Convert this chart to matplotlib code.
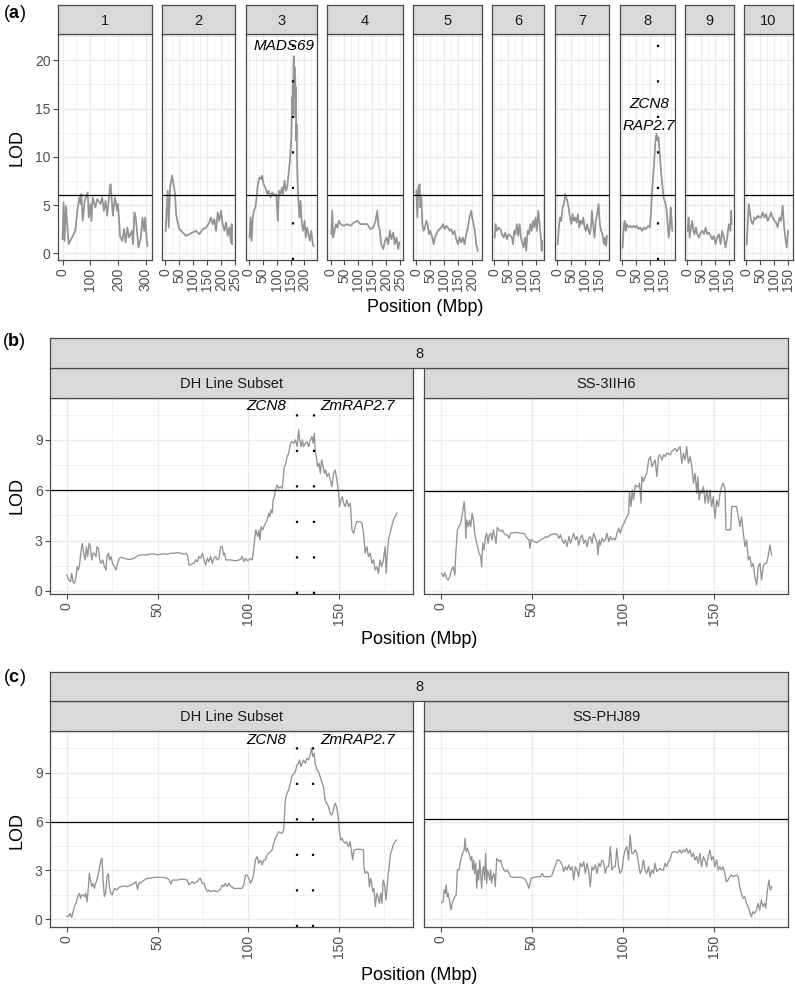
import matplotlib
matplotlib.use("Agg")
import matplotlib.pyplot as plt
from matplotlib.ticker import MultipleLocator, FuncFormatter

plt.rcParams['font.family'] = ['Liberation Sans', 'DejaVu Sans']
plt.rcParams['mathtext.fontset'] = 'custom'
plt.rcParams['mathtext.rm'] = 'Liberation Sans'
plt.rcParams['mathtext.bf'] = 'Liberation Sans:bold'
plt.rcParams['lines.scale_dashes'] = False

# ---------------- data: panel (a) genome scan ----------------
chroms = ['1', '2', '3', '4', '5', '6', '7', '8', '9', '10']
chrom_len = [306, 240, 233, 248, 224, 172, 179, 180, 160, 158]
threshold_a = 6.0

chr1_pos = [0, 3.6, 7.3, 12.1, 21.8, 33.9, 45.9, 53.2, 60.5, 65.3, 67.7, 72.6, 79.8, 90.7, 94.3,
            100.4, 104, 108.8, 118.5, 124.5, 136.6, 142.7, 148.7, 154.8, 160.8, 170.5, 172.9, 176.5,
            181.4, 188.6, 197.1, 199.5, 203.1, 206.8, 215.2, 221.3, 227.3, 233.4, 239.4, 249.1, 253.9,
            258.8, 263.6, 273.3, 281.7, 287.8, 293.8, 297.5, 303.5, 306]
chr1_lod = [1.46, 5.27, 1.28, 4.92, 0.94, 1.63, 2.32, 4.4, 5.79, 5.1, 6.14, 3.36, 5.44, 6.31, 3.71,
            5.1, 3.36, 5.79, 4.75, 5.62, 5.1, 5.79, 4.4, 5.44, 3.88, 6.83, 7.17, 5.79, 3.88, 5.79,
            4.4, 5.1, 3.71, 1.8, 1.28, 2.5, 1.11, 2.67, 1.63, 2.32, 0.94, 4.23, 3.71, 0.59, 1.63,
            3.71, 2.32, 3.71, 1.28, 0.76]
chr2_pos = [1.0, 8.4, 12, 16.8, 20.4, 24, 27.6, 31.2, 34.8, 38.4, 44.4, 50.4, 62.4, 74.3, 86.3,
            98.3, 110.3, 122.3, 134.3, 146.3, 158.3, 164.3, 170.3, 176.3, 182.3, 188.2, 194.2, 200.2,
            206.2, 212.2, 218.2, 224.2, 230.2, 236.2, 238.5, 240]
chr2_lod = [2.32, 6.48, 2.67, 6.83, 7.35, 8.04, 7.52, 6.83, 6.14, 4.06, 3.19, 2.5, 2.15, 1.8, 1.98,
            2.15, 2.32, 1.98, 2.5, 2.67, 3.19, 3.71, 3.02, 3.54, 2.32, 4.23, 3.36, 4.4, 3.02, 2.32,
            3.19, 1.8, 2.67, 1.11, 3.02, 0.94]
chr3_pos = [2.4, 6, 9.6, 14.4, 18, 22.8, 26.4, 32.4, 38.4, 44.4, 48, 52.8, 58.8, 65.9, 70.7, 77.9,
            83.9, 92.3, 98.3, 104.3, 107.9, 113.9, 118.7, 122.3, 128.3, 133.1, 137.9, 142.7, 147.5,
            152.3, 155.9, 157.1, 158.3, 159.5, 160.7, 161.9, 163.1, 164.3, 165.5, 166.7, 167.9, 169.1,
            170.3, 171.5, 173.9, 175.1, 178.7, 182.3, 185.9, 190.6, 195.4, 200.2, 205, 209.8, 214.6,
            219.4, 224.2, 230.2, 233]
chr3_lod = [1.63, 3.71, 1.28, 3.88, 4.4, 4.75, 5.44, 7.17, 7.87, 7.69, 8.04, 7.17, 6.83, 6.14, 6.48,
            5.79, 6.31, 5.96, 6.14, 3.36, 6.48, 6.14, 6.83, 6.14, 7.52, 6.48, 6.83, 8.21, 9.6, 11.68,
            16.19, 15.15, 17.57, 14.45, 19.65, 20.42, 16.19, 19.31, 16.53, 18.27, 14.11, 17.23, 11.68,
            13.41, 8.56, 7.52, 5.1, 3.71, 5.44, 3.02, 2.32, 3.36, 1.63, 2.67, 1.98, 1.28, 2.32, 0.94,
            0.76]
chr4_pos = [2.4, 6, 9.6, 14.4, 19.2, 24, 30, 36, 48, 60, 71.9, 83.9, 95.9, 107.9, 119.9, 131.9,
            143.9, 153.5, 161.9, 167.9, 171.5, 177.5, 182.3, 189.4, 195.4, 201.4, 207.4, 213.4, 219.4,
            225.4, 231.4, 237.4, 243.4, 247.5]
chr4_lod = [1.98, 4.4, 1.63, 2.32, 3.02, 2.67, 3.36, 3.02, 2.84, 3.02, 2.84, 3.19, 3.36, 3.02, 3.02,
            3.02, 2.5, 2.67, 3.36, 4.4, 3.02, 2.32, 0.94, 0.42, 1.28, 1.63, 0.94, 2.32, 1.46, 2.15,
            0.94, 1.63, 0.42, 1.11]
chr5_pos = [0, 3.6, 7.2, 12, 14.4, 18, 21.6, 26.3, 31.1, 35.9, 40.7, 45.5, 50.3, 57.5, 62.3, 67.1,
            71.9, 77.8, 83.8, 89.8, 95.8, 101.8, 107.8, 113.8, 119.8, 125.7, 131.7, 137.7, 143.7,
            149.7, 155.7, 161.7, 167.7, 173.7, 179.6, 185.6, 191.6, 197.6, 201.2, 206, 210.8, 215.6,
            221.6]
chr5_lod = [6.48, 3.71, 6.83, 7.17, 4.75, 5.79, 3.02, 2.32, 2.67, 3.36, 3.02, 1.98, 2.32, 1.63, 0.94,
            1.63, 1.98, 2.32, 2.5, 2.67, 3.02, 2.5, 2.84, 2.67, 2.32, 2.5, 1.98, 2.32, 1.46, 0.94,
            1.63, 1.11, 1.63, 0.94, 1.98, 2.67, 3.71, 4.4, 3.71, 3.02, 2.32, 0.94, 0.24]
chr6_pos = [1.2, 4.8, 9.6, 15.6, 21.6, 27.5, 33.5, 39.5, 45.5, 51.5, 57.5, 63.5, 67.1, 71.9, 76.6,
            81.4, 86.2, 91, 95.8, 100.6, 105.4, 110.2, 115, 119.8, 124.6, 129.3, 134.1, 138.9, 143.7,
            148.5, 153.3, 158.1, 162.9, 167.7, 170.5, 172]
chr6_lod = [1.63, 3.02, 2.32, 2.67, 2.5, 1.98, 1.63, 2.15, 1.46, 1.98, 1.8, 1.63, 0.94, 2.32, 1.98,
            3.02, 1.8, 3.02, 1.63, 1.11, 0.59, 1.63, 0.24, 2.32, 1.98, 3.02, 2.32, 3.36, 2.67, 3.71,
            2.32, 4.4, 3.02, 1.63, 0.24, 1.28]
chr7_pos = [1.2, 4.8, 9.6, 14.4, 19.2, 24, 28.7, 32.3, 35.9, 40.7, 45.5, 50.3, 55.1, 59.9, 64.7,
            69.5, 74.3, 79, 83.8, 88.6, 93.4, 98.2, 103, 107.8, 112.6, 117.4, 122.2, 124.6, 129.3,
            134.1, 138.9, 143.7, 148.5, 153.3, 158.1, 162.9, 167.7, 172.5, 176, 179]
chr7_lod = [0.94, 2.32, 3.71, 3.36, 4.75, 5.1, 6.14, 5.79, 5.44, 4.75, 3.71, 3.02, 4.06, 3.36, 3.71,
            3.19, 4.06, 2.67, 3.36, 3.02, 3.71, 2.67, 2.32, 3.02, 2.32, 1.98, 3.02, 4.4, 3.02, 1.63,
            3.36, 4.06, 5.1, 3.02, 2.32, 1.98, 0.94, 1.63, 0.76, 1.8]
chr8_pos = [1.2, 4.9, 8.5, 12.2, 15.9, 22, 28, 34.1, 40.2, 46.3, 52.4, 58.5, 64.6, 70.7, 76.8, 82.9,
            89, 95.1, 98.8, 102.4, 106.1, 111, 115.9, 119.5, 123.2, 126.8, 130.5, 134.1, 137.8, 141.5,
            145.1, 148.8, 152.4, 156.1, 159.8, 163.4, 167.1, 170.7, 174.4, 177, 180]
chr8_lod = [0.59, 2.67, 3.36, 2.32, 3.02, 2.67, 2.84, 2.67, 2.84, 2.67, 2.84, 2.5, 2.67, 2.32, 2.67,
            2.5, 2.67, 2.84, 2.67, 3.71, 5.79, 7.87, 9.95, 11.68, 12.37, 11.68, 12.03, 10.64, 9.25,
            7.87, 6.83, 5.79, 5.44, 5.1, 4.4, 3.02, 1.63, 2.67, 4.75, 3.71, 2.32]
chr9_pos = [1.2, 4.8, 8.4, 13.2, 18, 21.6, 26.3, 31.1, 35.9, 41.9, 47.9, 53.9, 59.9, 65.9, 71.9, 77.8,
            83.8, 89.8, 95.8, 101.8, 107.8, 113.8, 119.8, 125.7, 131.7, 137.7, 143.7, 149.7, 155.7,
            158, 159.5]
chr9_lod = [2.32, 3.71, 1.63, 2.67, 3.36, 2.32, 1.98, 2.67, 1.98, 1.63, 2.15, 2.32, 1.98, 2.67, 1.98,
            2.15, 1.8, 1.46, 1.8, 0.94, 1.63, 1.98, 0.94, 2.32, 1.63, 0.59, 1.63, 3.02, 2.32, 4.4,
            3.02]
chr10_pos = [1.2, 4.8, 8.4, 12, 16.8, 22.8, 28.7, 34.7, 40.7, 46.7, 52.7, 58.7, 64.7, 70.7, 76.6,
             82.6, 88.6, 94.6, 100.6, 106.6, 112.6, 118.6, 124.6, 130.5, 136, 140, 145, 150]
chr10_lod = [0.94, 3.02, 5.1, 4.4, 3.36, 3.02, 3.71, 3.54, 3.88, 3.71, 3.71, 4.23, 3.71, 4.06, 3.36,
             3.71, 4.23, 3.71, 3.36, 3.19, 2.67, 3.71, 3.36, 4.92, 2.67, 1.63, 0.59, 2.32]

scan_pos = [chr1_pos, chr2_pos, chr3_pos, chr4_pos, chr5_pos, chr6_pos, chr7_pos, chr8_pos, chr9_pos, chr10_pos]
scan_lod = [chr1_lod, chr2_lod, chr3_lod, chr4_lod, chr5_lod, chr6_lod, chr7_lod, chr8_lod, chr9_lod, chr10_lod]

# candidate genes in panel (a): chromosome number -> position (Mbp)
genes_a_chrom = [3, 8]
genes_a_pos = [160.5, 128.0]
labels_a_chrom = [3, 8, 8]
labels_a_text = ['MADS69', 'ZCN8', 'RAP2.7']
labels_a_x = [125, 96, 96]
labels_a_y = [21.5, 15.5, 13.2]

# ---------------- data: panels (b) and (c), chromosome 8 ----------------
gene_names_8 = ['ZCN8', 'ZmRAP2.7']
gene_pos_8 = [126.8, 135.9]

dh_b_pos = [0, 1.1, 2.0, 2.7, 3.5, 4.2, 5.1, 5.7, 6.4, 7.1,
            7.9, 8.6, 9.3, 10.1, 10.8, 11.5, 12.3, 13.0, 13.7, 14.5,
            15.2, 16.1, 16.6, 17.4, 18.1, 18.8, 19.8, 20.7, 21.6, 22.1,
            22.9, 23.6, 24.3, 25.2, 26.2, 27.1, 28.0, 28.9, 29.8, 31.6,
            33.5, 35.3, 37.1, 39.0, 40.8, 42.6, 44.5, 46.3, 48.1, 49.9,
            51.8, 53.6, 55.4, 57.3, 59.1, 60.9, 62.8, 64.6, 65.5, 66.4,
            67.3, 68.2, 69.2, 70.1, 71.0, 71.9, 72.8, 73.7, 74.6, 75.6,
            76.5, 77.4, 78.3, 79.2, 80.1, 81.0, 82.0, 82.9, 83.8, 84.7,
            85.6, 86.2, 86.9, 87.6, 88.4, 90.2, 92.0, 93.9, 95.7, 96.6,
            97.5, 98.4, 99.3, 100.3, 101.2, 102.1, 102.6, 103.4, 104.0, 104.5,
            105.2, 105.7, 106.3, 107.0, 107.8, 108.5, 109.4, 110.3, 111.2, 111.8,
            112.5, 113.1, 113.6, 114.3, 114.9, 115.8, 116.7, 117.6, 118.6, 119.1,
            119.8, 120.6, 121.3, 122.2, 123.1, 124.0, 125.0, 125.9, 126.8, 127.7,
            128.2, 129.0, 129.7, 130.4, 131.4, 132.3, 133.2, 134.1, 135.0, 135.6,
            136.3, 136.8, 137.4, 138.1, 138.9, 139.6, 140.3, 141.1, 141.8, 142.5,
            143.2, 144.2, 145.1, 146.0, 146.9, 147.8, 148.7, 149.7, 150.2, 150.9,
            151.7, 152.4, 153.3, 154.2, 155.1, 156.1, 157.0, 157.9, 158.8, 159.7,
            160.6, 161.5, 162.5, 163.4, 164.3, 165.2, 166.1, 167.0, 168.0, 168.9,
            169.8, 170.7, 171.6, 172.5, 173.4, 174.3, 175.3, 175.8, 176.5, 177.1,
            178.0, 178.9, 179.8, 180.8, 181.7]
dh_b_lod = [0.95, 0.66, 0.56, 1.05, 0.5, 0.46, 0.85, 1.45, 1.25, 1.65,
            2.44, 2.84, 2.25, 1.85, 2.64, 2.05, 2.84, 2.64, 1.85, 2.25,
            2.25, 2.05, 2.64, 2.54, 1.85, 1.65, 1.85, 1.45, 1.25, 2.05,
            2.25, 1.85, 2.05, 1.65, 1.45, 1.25, 1.65, 1.95, 2.0, 1.95,
            1.89, 1.89, 1.95, 2.09, 2.15, 2.15, 2.15, 2.21, 2.21, 2.15,
            2.19, 2.21, 2.19, 2.25, 2.25, 2.28, 2.25, 2.21, 2.25, 2.15,
            1.55, 1.55, 1.65, 1.65, 1.85, 1.75, 2.05, 1.95, 2.25, 1.85,
            1.55, 1.95, 1.75, 2.05, 1.65, 1.95, 2.05, 1.85, 1.95, 2.64,
            2.64, 2.15, 2.25, 1.85, 1.85, 1.85, 1.81, 1.81, 1.89, 2.05,
            1.75, 1.95, 1.81, 1.85, 1.95, 1.85, 2.25, 3.04, 3.64, 3.44,
            3.24, 3.64, 3.04, 3.83, 3.64, 3.83, 4.03, 4.23, 4.63, 4.43,
            4.83, 4.63, 5.42, 5.62, 6.02, 6.32, 6.12, 6.22, 6.12, 6.62,
            7.41, 7.61, 8.01, 8.21, 8.8, 8.9, 8.8, 9.0, 8.6, 9.6,
            9.0, 8.6, 9.0, 8.6, 8.8, 8.9, 8.6, 9.0, 9.2, 8.8,
            9.4, 8.4, 8.01, 7.41, 7.61, 7.01, 7.81, 7.41, 7.01, 7.21,
            6.82, 7.01, 6.62, 6.22, 7.01, 7.21, 6.62, 5.82, 5.03, 5.42,
            5.62, 5.23, 5.03, 5.42, 5.03, 5.23, 3.64, 3.44, 3.83, 4.13,
            4.13, 4.13, 4.03, 3.44, 2.25, 2.64, 2.05, 2.25, 1.65, 1.85,
            1.25, 1.45, 1.05, 1.85, 1.45, 1.85, 2.64, 1.05, 2.25, 3.04,
            3.44, 3.83, 4.23, 4.43, 4.63]

ss_b_pos = [0.4, 1.3, 2.2, 3.1, 4.0, 4.9, 5.8, 6.8, 7.7, 8.2,
            9.1, 10.0, 10.9, 11.9, 12.8, 13.3, 13.7, 14.2, 15.0, 15.7,
            16.4, 17.2, 17.9, 18.6, 19.3, 20.1, 21.0, 21.9, 22.4, 23.0,
            23.7, 24.5, 25.2, 25.9, 26.6, 27.4, 28.1, 28.8, 29.6, 30.3,
            31.0, 31.9, 32.8, 33.8, 34.7, 35.6, 36.5, 37.4, 38.3, 40.1,
            42.0, 43.8, 45.6, 47.4, 48.4, 48.9, 49.6, 51.1, 52.9, 54.7,
            56.6, 57.5, 58.4, 60.2, 62.0, 63.9, 64.8, 65.7, 66.6, 67.5,
            68.4, 69.3, 70.3, 71.2, 72.1, 73.0, 73.9, 74.8, 75.7, 76.6,
            77.6, 78.5, 79.4, 80.3, 81.2, 82.1, 83.0, 83.9, 84.9, 85.8,
            86.3, 86.9, 87.6, 88.5, 89.4, 90.3, 91.2, 92.2, 93.1, 94.0,
            94.9, 95.8, 96.7, 97.6, 98.5, 99.5, 100.4, 101.3, 102.2, 103.1,
            103.6, 104.4, 105.1, 105.8, 106.8, 107.7, 108.6, 109.1, 109.9, 110.4,
            111.3, 112.2, 113.1, 114.1, 115.0, 115.9, 116.8, 117.7, 118.6, 119.5,
            120.4, 121.4, 122.3, 123.2, 124.1, 125.0, 125.9, 126.8, 127.7, 128.6,
            129.6, 130.5, 131.4, 132.3, 133.2, 134.1, 135.0, 135.9, 136.9, 137.8,
            138.7, 139.6, 140.5, 141.1, 141.8, 142.7, 143.4, 144.2, 145.1, 146.0,
            146.9, 147.8, 148.7, 149.6, 150.5, 151.5, 152.4, 153.3, 154.2, 155.1,
            156.0, 156.6, 157.8, 159.1, 159.7, 161.5, 162.4, 163.3, 164.2, 165.1,
            166.1, 167.0, 167.9, 168.8, 169.7, 170.6, 171.5, 172.4, 173.4, 174.3,
            175.2, 176.1, 177.0, 177.9, 178.8, 179.7, 180.7, 181.6]
ss_b_lod = [1.05, 0.85, 1.09, 0.76, 0.66, 0.85, 1.25, 1.45, 0.95, 2.25,
            3.64, 3.83, 4.03, 4.63, 5.32, 4.63, 3.14, 4.23, 3.83, 4.23,
            3.83, 4.63, 4.23, 3.44, 3.04, 2.64, 2.25, 2.05, 1.45, 2.84,
            2.44, 3.24, 3.44, 2.84, 3.34, 3.44, 3.04, 3.64, 3.24, 2.84,
            3.79, 3.64, 3.54, 3.64, 3.44, 3.34, 3.34, 3.14, 3.44, 3.48,
            3.48, 3.44, 3.44, 3.14, 3.04, 2.54, 3.08, 2.94, 2.88, 3.04,
            3.14, 3.24, 3.2, 3.34, 3.4, 3.38, 3.14, 3.34, 3.04, 2.84,
            3.04, 2.64, 3.24, 2.84, 3.14, 3.44, 3.04, 3.24, 2.74, 3.14,
            3.34, 2.84, 3.04, 2.64, 3.14, 3.24, 2.84, 3.44, 3.14, 2.84,
            2.15, 3.04, 2.74, 3.14, 2.94, 3.04, 3.44, 2.94, 3.24, 3.04,
            3.14, 3.04, 3.44, 3.74, 3.44, 3.83, 3.99, 4.23, 4.43, 4.63,
            5.92, 5.03, 6.02, 5.42, 6.32, 6.22, 6.22, 6.42, 5.23, 6.82,
            6.52, 6.82, 7.01, 7.81, 8.01, 7.41, 7.61, 7.81, 6.82, 8.01,
            8.11, 7.81, 8.11, 8.01, 8.21, 8.17, 8.11, 8.31, 8.4, 8.5,
            8.31, 8.5, 8.6, 7.61, 8.21, 7.81, 8.6, 7.61, 8.01, 7.41,
            6.42, 7.01, 5.82, 6.82, 5.42, 6.02, 5.82, 6.22, 5.23, 6.02,
            5.23, 6.02, 5.03, 5.62, 4.33, 5.42, 5.03, 5.82, 6.22, 6.42,
            6.12, 3.64, 3.64, 3.64, 5.03, 5.03, 5.03, 4.43, 3.83, 4.43,
            3.44, 2.64, 3.04, 1.85, 2.05, 1.45, 1.65, 0.85, 0.36, 1.45,
            1.65, 0.66, 1.45, 1.65, 1.65, 2.05, 2.74, 2.15]

dh_c_pos = [0, 0.9, 1.8, 2.7, 3.5, 4.2, 5.1, 6.0, 7.0, 7.5,
            8.2, 9.0, 9.7, 10.4, 11.2, 11.9, 12.4, 13.0, 13.7, 14.5,
            15.2, 15.9, 16.6, 17.4, 18.1, 18.8, 19.4, 20.0, 20.7, 21.4,
            22.1, 22.9, 23.4, 24.3, 25.1, 25.8, 26.5, 27.6, 28.9, 29.8,
            31.6, 33.5, 35.3, 37.1, 38.1, 39.0, 39.9, 40.8, 42.6, 44.5,
            46.3, 48.1, 49.9, 51.8, 53.6, 55.4, 56.4, 57.3, 58.2, 59.1,
            60.9, 62.8, 64.6, 66.4, 67.3, 68.2, 69.2, 70.1, 71.0, 71.9,
            72.8, 73.7, 74.6, 75.6, 76.5, 77.4, 78.3, 79.2, 81.0, 82.9,
            84.7, 85.6, 86.5, 87.4, 88.4, 89.3, 90.2, 92.0, 93.9, 95.7,
            96.6, 97.5, 98.4, 99.3, 100.3, 101.2, 102.1, 103.0, 103.9, 104.8,
            105.7, 106.7, 107.6, 108.5, 109.4, 110.3, 111.2, 112.1, 113.1, 114.0,
            114.9, 115.8, 116.7, 117.6, 118.6, 119.5, 119.8, 120.4, 121.3, 122.2,
            123.1, 124.0, 125.0, 125.9, 126.8, 127.7, 128.2, 129.0, 129.7, 130.4,
            131.4, 132.3, 133.2, 134.1, 134.8, 135.6, 136.3, 136.8, 137.8, 138.7,
            139.6, 140.5, 141.4, 142.3, 143.2, 144.2, 145.1, 146.0, 146.9, 147.8,
            148.7, 149.7, 150.2, 150.9, 151.7, 152.4, 153.3, 154.2, 155.1, 156.1,
            157.0, 157.5, 158.2, 159.7, 161.5, 163.4, 163.7, 164.3, 165.2, 166.1,
            166.7, 167.4, 168.0, 168.5, 169.2, 170.0, 170.7, 171.4, 172.2, 172.9,
            173.6, 174.3, 175.3, 175.8, 176.5, 177.1, 177.6, 178.4, 179.1, 179.8,
            180.8, 181.7]
dh_c_lod = [0.2, 0.16, 0.37, 0.12, 0.47, 0.78, 0.98, 1.39, 1.6, 1.29,
            1.49, 1.49, 1.39, 1.6, 1.08, 2.01, 2.82, 2.41, 2.01, 2.21,
            1.9, 2.21, 2.41, 2.82, 3.23, 3.64, 3.74, 2.41, 1.39, 1.6,
            2.62, 2.82, 2.01, 1.6, 1.49, 1.8, 1.9, 1.8, 1.96, 2.01,
            2.05, 2.01, 2.11, 2.21, 2.31, 1.84, 2.25, 2.25, 2.41, 2.52,
            2.52, 2.58, 2.58, 2.58, 2.56, 2.52, 2.41, 2.17, 2.41, 2.41,
            2.41, 2.46, 2.46, 2.41, 2.11, 2.21, 2.31, 2.21, 2.25, 2.31,
            2.46, 2.52, 2.21, 2.21, 1.9, 1.7, 1.8, 1.7, 1.76, 1.7,
            1.84, 2.11, 2.01, 2.21, 2.01, 2.21, 2.05, 1.9, 1.9, 1.9,
            1.9, 2.11, 2.72, 2.72, 2.52, 2.21, 2.41, 2.82, 3.64, 3.85,
            3.44, 3.64, 3.34, 3.64, 3.64, 3.95, 4.05, 4.15, 4.26, 4.67,
            4.97, 5.18, 5.38, 5.32, 5.28, 5.48, 6.1, 7.33, 7.73, 7.94,
            8.35, 8.76, 8.96, 9.06, 9.47, 9.58, 9.78, 9.37, 9.58, 9.78,
            9.58, 9.88, 9.78, 10.09, 10.5, 9.99, 10.19, 9.58, 9.17, 9.06,
            8.76, 8.45, 8.14, 7.33, 7.12, 6.92, 6.51, 6.4, 6.71, 7.12,
            6.92, 6.1, 5.38, 4.87, 4.97, 4.77, 4.67, 4.77, 4.46, 4.77,
            4.05, 3.64, 4.26, 4.3, 4.3, 4.26, 3.23, 2.82, 2.93, 2.82,
            2.01, 2.52, 2.21, 1.7, 1.9, 0.78, 1.6, 1.39, 0.98, 1.6,
            0.98, 2.41, 2.01, 1.19, 2.01, 2.82, 3.23, 4.05, 4.26, 4.56,
            4.77, 4.87]

ss_c_pos = [0.4, 1.3, 1.8, 2.4, 2.9, 3.5, 4.0, 4.7, 5.5, 6.2,
            6.9, 7.7, 8.4, 9.1, 10.0, 10.9, 11.9, 12.8, 13.3, 13.9,
            14.6, 15.5, 16.4, 17.0, 17.5, 18.1, 18.6, 19.2, 19.7, 20.3,
            20.8, 21.4, 21.9, 22.4, 23.0, 23.5, 24.1, 24.6, 25.2, 25.7,
            26.3, 26.8, 27.4, 27.9, 28.5, 29.2, 29.9, 30.7, 31.4, 32.1,
            32.8, 33.8, 34.7, 35.6, 36.5, 37.4, 38.3, 40.1, 42.0, 43.8,
            45.6, 46.5, 47.4, 48.4, 49.6, 51.1, 52.9, 54.7, 55.7, 56.6,
            58.4, 60.2, 61.1, 62.0, 63.0, 63.9, 64.8, 65.7, 66.6, 67.5,
            68.4, 69.3, 70.3, 71.2, 72.1, 73.0, 73.9, 74.8, 75.7, 76.6,
            77.6, 78.5, 79.4, 80.3, 81.2, 82.1, 83.0, 83.9, 84.9, 85.8,
            86.7, 87.6, 88.5, 89.4, 90.3, 91.2, 92.2, 93.1, 94.0, 94.9,
            95.8, 96.7, 97.6, 98.5, 99.5, 100.4, 101.3, 102.2, 103.1, 104.0,
            104.9, 105.8, 106.8, 107.7, 108.6, 109.5, 110.4, 111.3, 112.2, 113.1,
            114.1, 115.0, 115.9, 116.8, 117.7, 118.6, 119.5, 120.4, 121.4, 122.3,
            123.2, 124.1, 125.0, 125.9, 126.8, 127.7, 128.6, 129.6, 130.5, 131.4,
            132.3, 133.2, 134.1, 135.0, 135.9, 136.9, 137.8, 138.7, 139.6, 140.5,
            141.4, 142.3, 143.2, 144.2, 145.1, 146.0, 146.9, 147.8, 148.7, 149.6,
            150.5, 151.5, 152.4, 153.3, 154.2, 155.1, 156.0, 156.9, 157.8, 158.8,
            159.7, 160.6, 162.4, 163.3, 164.2, 165.1, 166.1, 167.0, 167.9, 168.8,
            169.7, 170.6, 171.5, 172.4, 173.4, 174.3, 175.2, 176.1, 177.0, 177.9,
            178.5, 179.2, 179.7, 180.3, 181.0, 181.8]
ss_c_lod = [1.02, 1.08, 1.8, 1.6, 2.11, 1.39, 1.6, 1.19, 0.57, 0.98,
            1.19, 1.39, 1.49, 3.03, 3.03, 3.64, 4.05, 4.26, 4.97, 4.15,
            4.36, 4.05, 3.64, 3.85, 3.03, 3.64, 2.82, 3.44, 1.9, 3.03,
            2.41, 3.64, 2.82, 1.9, 3.03, 3.23, 2.41, 4.05, 2.21, 3.03,
            2.82, 2.41, 3.03, 2.21, 2.62, 2.82, 2.01, 3.74, 3.64, 3.54,
            3.64, 3.23, 3.03, 2.93, 3.03, 2.82, 2.62, 2.58, 2.58, 2.58,
            2.52, 2.41, 2.21, 1.9, 2.52, 2.58, 2.62, 2.62, 2.82, 2.62,
            2.62, 2.62, 2.72, 3.03, 3.34, 3.64, 3.64, 3.54, 3.34, 2.93,
            3.23, 3.03, 3.34, 3.03, 3.23, 2.41, 3.23, 3.03, 2.62, 3.44,
            3.23, 3.54, 2.82, 3.44, 3.03, 2.01, 3.23, 3.03, 3.34, 2.82,
            3.44, 3.23, 3.64, 3.54, 2.82, 3.23, 3.23, 4.46, 3.03, 3.23,
            3.23, 4.36, 3.23, 2.82, 3.03, 3.85, 4.26, 4.46, 3.64, 5.18,
            4.05, 4.05, 4.26, 4.05, 3.44, 2.82, 3.03, 3.64, 3.03, 2.82,
            3.23, 2.62, 3.03, 2.82, 3.44, 2.93, 3.03, 3.13, 3.03, 3.03,
            3.44, 3.23, 3.54, 3.64, 4.05, 4.15, 4.15, 4.09, 4.15, 4.26,
            4.05, 4.26, 4.15, 4.36, 4.05, 4.26, 3.85, 4.05, 3.64, 3.85,
            3.44, 4.05, 3.23, 3.85, 3.64, 3.23, 3.85, 4.26, 3.64, 3.85,
            3.23, 3.64, 3.03, 3.23, 3.03, 3.23, 2.82, 2.31, 2.41, 2.62,
            2.72, 2.62, 2.72, 2.62, 2.01, 1.6, 1.29, 1.39, 0.98, 0.78,
            0.47, 0.16, 0.47, 0.37, 0.57, 0.98, 0.57, 1.19, 0.78, 0.98,
            0.68, 1.6, 2.01, 2.41, 1.8, 2.01]

facet_names_b = ['DH Line Subset', 'SS-3IIH6']
facet_names_c = ['DH Line Subset', 'SS-PHJ89']
threshold_b = [6.0, 5.94]
threshold_c = [6.0, 6.16]

# ---------------- style / layout ----------------
W, H = 795, 988
GRID = '#EBEBEB'
BORDER = '#4A4A4A'
STRIP = '#D9D9D9'
LINE = '#939393'
TICKC = '#4D4D4D'
DOTS = (0, (1.6, 23.96))

fig = plt.figure(figsize=(W / 100, H / 100), dpi=100)


def rect(x0, y0, x1, y1):
    return [x0 / W, 1 - y1 / H, (x1 - x0) / W, (y1 - y0) / H]


def strip(x0, y0, x1, y1, text):
    ax = fig.add_axes(rect(x0, y0, x1, y1))
    ax.set_facecolor(STRIP)
    ax.set_xticks([])
    ax.set_yticks([])
    for s in ax.spines.values():
        s.set_color(BORDER)
        s.set_linewidth(0.9)
    ax.text(0.5, 0.47, text, ha='center', va='center', fontsize=10.5,
            color='#1A1A1A', transform=ax.transAxes)
    return ax


def style(ax, xmaj, ymaj, show_y):
    ax.set_facecolor('white')
    for s in ax.spines.values():
        s.set_color(BORDER)
        s.set_linewidth(0.9)
    ax.xaxis.set_major_locator(MultipleLocator(xmaj))
    ax.xaxis.set_minor_locator(MultipleLocator(xmaj / 2))
    ax.yaxis.set_major_locator(MultipleLocator(ymaj))
    ax.yaxis.set_minor_locator(MultipleLocator(ymaj / 2))
    ax.grid(which='major', color=GRID, lw=1.0)
    ax.grid(which='minor', color=GRID, lw=0.5)
    ax.set_axisbelow(True)
    ax.tick_params(which='minor', length=0)
    ax.tick_params(which='major', length=3.6, width=0.8, color=BORDER,
                   labelsize=10, labelcolor=TICKC, pad=2)
    ax.tick_params(axis='x', labelrotation=90)
    ax.xaxis.set_major_formatter(FuncFormatter(lambda v, p: f"{v:g}"))
    if not show_y:
        ax.tick_params(axis='y', left=False, labelleft=False)


# ---- panel (a) ----
a_left, a_right, a_gap = 58.3, 792.5, 10.3
a_top, a_strip_top, a_bottom = 34.3, 5.0, 260.0
span = [1.1 * L for L in chrom_len]
scale = (a_right - a_left - a_gap * (len(chroms) - 1)) / sum(span)
x = a_left
for i, ch in enumerate(chroms):
    w = span[i] * scale
    ax = fig.add_axes(rect(x, a_top, x + w, a_bottom))
    L = chrom_len[i]
    ax.set_xlim(-0.05 * L, 1.05 * L)
    ax.set_ylim(-0.7, 22.7)
    style(ax, 100 if i == 0 else 50, 5, i == 0)
    ax.plot(scan_pos[i], scan_lod[i], color=LINE, lw=1.25)
    ax.axhline(threshold_a, color='black', lw=0.9)
    for gc, gp in zip(genes_a_chrom, genes_a_pos):
        if gc == i + 1:
            ax.axvline(gp, color='black', lw=1.6, linestyle=DOTS)
    for lc, lt, lx, ly in zip(labels_a_chrom, labels_a_text, labels_a_x, labels_a_y):
        if lc == i + 1:
            ax.text(lx, ly, lt, ha='center', va='center', fontsize=11, style='italic',
                    color='black', clip_on=True)
    strip(x, a_strip_top, x + w, a_top, ch)
    x += w + a_gap

fig.text(17 / W, 1 - 148 / H, 'LOD', rotation=90, ha='center', va='center', fontsize=13)
fig.text(425 / W, 1 - 308 / H, 'Position (Mbp)', ha='center', va='center', fontsize=13)
fig.text(14 / W, 1 - 14 / H, r'($\mathbf{a}$)', ha='center', va='center', fontsize=13)


# ---- panels (b), (c) ----
def chr8_panel(y_outer, y_inner, y_top, y_bot, ylim, names, dh_pos, dh_lod, ss_pos, ss_lod,
               thr, lab_y, lod_y, xlab_y, tag, tag_y):
    xl0, xl1, xr0, xr1 = 50.3, 413.3, 424.3, 788.3
    xmax = max(max(dh_pos), max(ss_pos))
    series = [(dh_pos, dh_lod), (ss_pos, ss_lod)]
    for k, (x0, x1) in enumerate([(xl0, xl1), (xr0, xr1)]):
        ax = fig.add_axes(rect(x0, y_top, x1, y_bot))
        ax.set_xlim(-0.05 * xmax, 1.05 * xmax)
        ax.set_ylim(*ylim)
        style(ax, 50, 3, k == 0)
        ax.plot(series[k][0], series[k][1], color=LINE, lw=0.95)
        ax.axhline(thr[k], color='black', lw=0.9)
        if k == 0:
            for gp in gene_pos_8:
                ax.axvline(gp, color='black', lw=1.6, linestyle=DOTS)
            ax.text(gene_pos_8[0] - 5.9, lab_y, gene_names_8[0], ha='right', va='center',
                    fontsize=11, style='italic', color='black')
            ax.text(gene_pos_8[1] + 3.7, lab_y, gene_names_8[1], ha='left', va='center',
                    fontsize=11, style='italic', color='black')
        strip(x0, y_inner, x1, y_top, names[k])
    strip(xl0, y_outer, xr1, y_inner, '8')
    fig.text(17 / W, 1 - lod_y / H, 'LOD', rotation=90, ha='center', va='center', fontsize=13)
    fig.text(419 / W, 1 - xlab_y / H, 'Position (Mbp)', ha='center', va='center', fontsize=13)
    fig.text(14 / W, 1 - tag_y / H, r'($\mathbf{%s}$)' % tag, ha='center', va='center', fontsize=13)


chr8_panel(338, 368, 398, 594, (-0.18, 11.5), facet_names_b, dh_b_pos, dh_b_lod, ss_b_pos, ss_b_lod,
           threshold_b, 11.0, 495, 640, 'b', 341)
chr8_panel(672, 701, 731, 927, (-0.47, 11.56), facet_names_c, dh_c_pos, dh_c_lod, ss_c_pos, ss_c_lod,
           threshold_c, 11.0, 830, 975, 'c', 677)

fig.savefig('out.png', dpi=100)
